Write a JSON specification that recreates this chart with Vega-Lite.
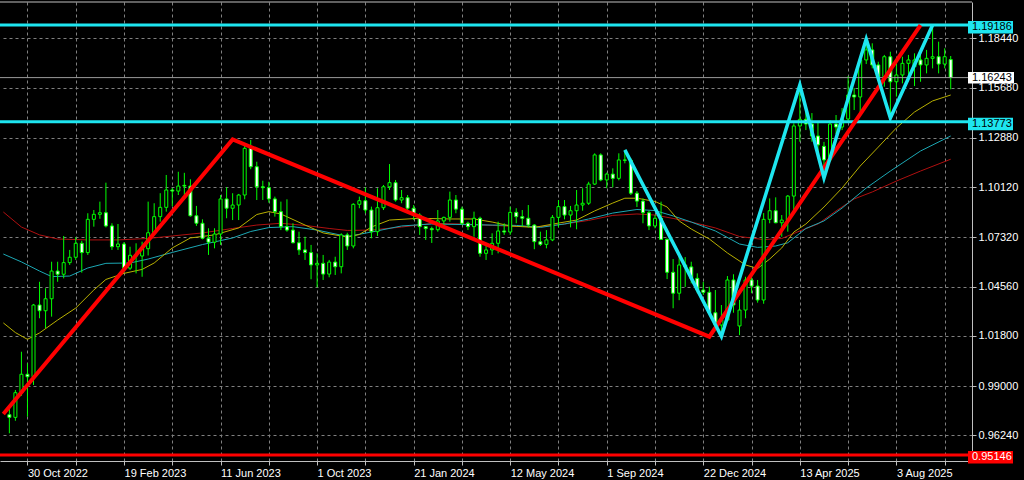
{
"$schema":"https://vega.github.io/schema/vega-lite/v6.json",
"width":972,"height":459,
"autosize":{"type":"none"},
"padding":{"left":0,"top":2,"right":52,"bottom":19},
"background":"#000000",
"config":{"view":{"stroke":null},"font":"Liberation Sans",
"axis":{"labelColor":"#ffffff","labelFont":"Liberation Sans","labelFontSize":11,"domainColor":"#c0c0c0","tickColor":"#c0c0c0","gridColor":"#808080","gridDash":[3,3],"gridOpacity":1,"grid":true,"title":null}},
"datasets":{
"cd":[
{"d":"2022-10-09","o":0.974,"h":0.9785,"l":0.9636,"c":0.9725},
{"d":"2022-10-16","o":0.9725,"h":0.9878,"l":0.9706,"c":0.9863},
{"d":"2022-10-23","o":0.9863,"h":1.0092,"l":0.9845,"c":0.9966},
{"d":"2022-10-30","o":0.9966,"h":1.0027,"l":0.9729,"c":0.9952},
{"d":"2022-11-06","o":0.9952,"h":1.0359,"l":0.9906,"c":1.0353},
{"d":"2022-11-13","o":1.0353,"h":1.0483,"l":1.0279,"c":1.0321},
{"d":"2022-11-20","o":1.0321,"h":1.0447,"l":1.0223,"c":1.0388},
{"d":"2022-11-27","o":1.0388,"h":1.0595,"l":1.0288,"c":1.0543},
{"d":"2022-12-04","o":1.0543,"h":1.0595,"l":1.0483,"c":1.0525},
{"d":"2022-12-11","o":1.0525,"h":1.0739,"l":1.0502,"c":1.059},
{"d":"2022-12-18","o":1.059,"h":1.0661,"l":1.0577,"c":1.062},
{"d":"2022-12-25","o":1.062,"h":1.0732,"l":1.0605,"c":1.0698},
{"d":"2023-01-01","o":1.0698,"h":1.0712,"l":1.0534,"c":1.0646},
{"d":"2023-01-08","o":1.0646,"h":1.0866,"l":1.0633,"c":1.0832},
{"d":"2023-01-15","o":1.0832,"h":1.0884,"l":1.0791,"c":1.086},
{"d":"2023-01-22","o":1.086,"h":1.0931,"l":1.0835,"c":1.0869},
{"d":"2023-01-29","o":1.0869,"h":1.1037,"l":1.0787,"c":1.0795},
{"d":"2023-02-05","o":1.0795,"h":1.081,"l":1.0661,"c":1.0679},
{"d":"2023-02-12","o":1.0679,"h":1.0806,"l":1.0661,"c":1.0694},
{"d":"2023-02-19","o":1.0694,"h":1.0705,"l":1.0535,"c":1.0559},
{"d":"2023-02-26","o":1.0559,"h":1.0679,"l":1.0549,"c":1.0631},
{"d":"2023-03-05","o":1.0631,"h":1.0698,"l":1.053,"c":1.0627},
{"d":"2023-03-12","o":1.0627,"h":1.0707,"l":1.0511,"c":1.0668},
{"d":"2023-03-19","o":1.0668,"h":1.0931,"l":1.063,"c":1.0757},
{"d":"2023-03-26","o":1.0757,"h":1.0922,"l":1.0745,"c":1.0847},
{"d":"2023-04-02","o":1.0847,"h":1.0978,"l":1.0819,"c":1.0899},
{"d":"2023-04-09","o":1.0899,"h":1.108,"l":1.0875,"c":1.0996},
{"d":"2023-04-16","o":1.0996,"h":1.1007,"l":1.0905,"c":1.099},
{"d":"2023-04-23","o":1.099,"h":1.1098,"l":1.0968,"c":1.1018},
{"d":"2023-04-30","o":1.1022,"h":1.1092,"l":1.0968,"c":1.1018},
{"d":"2023-05-07","o":1.1018,"h":1.1056,"l":1.0847,"c":1.0852},
{"d":"2023-05-14","o":1.0852,"h":1.0907,"l":1.0795,"c":1.081},
{"d":"2023-05-21","o":1.081,"h":1.0832,"l":1.072,"c":1.0726},
{"d":"2023-05-28","o":1.0726,"h":1.0782,"l":1.0633,"c":1.0704},
{"d":"2023-06-04","o":1.0704,"h":1.0782,"l":1.067,"c":1.075},
{"d":"2023-06-11","o":1.075,"h":1.0968,"l":1.0689,"c":1.0946},
{"d":"2023-06-18","o":1.0946,"h":1.1011,"l":1.0838,"c":1.0894},
{"d":"2023-06-25","o":1.0894,"h":1.0978,"l":1.0828,"c":1.0912},
{"d":"2023-07-02","o":1.0912,"h":1.0974,"l":1.0828,"c":1.0968},
{"d":"2023-07-09","o":1.0968,"h":1.1242,"l":1.0944,"c":1.1229},
{"d":"2023-07-16","o":1.1229,"h":1.1276,"l":1.1112,"c":1.1126},
{"d":"2023-07-23","o":1.1126,"h":1.1154,"l":1.094,"c":1.1014},
{"d":"2023-07-30","o":1.1014,"h":1.1048,"l":1.094,"c":1.1009},
{"d":"2023-08-06","o":1.1009,"h":1.1042,"l":1.0925,"c":1.0946},
{"d":"2023-08-13","o":1.0946,"h":1.0959,"l":1.0847,"c":1.0875},
{"d":"2023-08-20","o":1.0875,"h":1.0931,"l":1.0772,"c":1.0791},
{"d":"2023-08-27","o":1.0791,"h":1.0944,"l":1.0763,"c":1.0772},
{"d":"2023-09-03","o":1.0772,"h":1.081,"l":1.0698,"c":1.0701},
{"d":"2023-09-10","o":1.0701,"h":1.0763,"l":1.0633,"c":1.0661},
{"d":"2023-09-17","o":1.0661,"h":1.0735,"l":1.0605,"c":1.0646},
{"d":"2023-09-24","o":1.0646,"h":1.0689,"l":1.0497,"c":1.0577},
{"d":"2023-10-01","o":1.0577,"h":1.0642,"l":1.0452,"c":1.0586},
{"d":"2023-10-08","o":1.0586,"h":1.0633,"l":1.0493,"c":1.0526},
{"d":"2023-10-15","o":1.0526,"h":1.0605,"l":1.0508,"c":1.0593},
{"d":"2023-10-22","o":1.0593,"h":1.0623,"l":1.0521,"c":1.0567},
{"d":"2023-10-29","o":1.0567,"h":1.0754,"l":1.053,"c":1.0745},
{"d":"2023-11-05","o":1.0745,"h":1.0757,"l":1.0661,"c":1.0683},
{"d":"2023-11-12","o":1.0683,"h":1.0922,"l":1.067,"c":1.0916},
{"d":"2023-11-19","o":1.0916,"h":1.0959,"l":1.0894,"c":1.0936},
{"d":"2023-11-26","o":1.0936,"h":1.1011,"l":1.0866,"c":1.0884},
{"d":"2023-12-03","o":1.0884,"h":1.0903,"l":1.0726,"c":1.0763},
{"d":"2023-12-10","o":1.0763,"h":1.1006,"l":1.0739,"c":1.0897},
{"d":"2023-12-17","o":1.0897,"h":1.1024,"l":1.0884,"c":1.1014},
{"d":"2023-12-24","o":1.1014,"h":1.1141,"l":1.0996,"c":1.1037},
{"d":"2023-12-31","o":1.1037,"h":1.1052,"l":1.0931,"c":1.094},
{"d":"2024-01-07","o":1.094,"h":1.0996,"l":1.0922,"c":1.0953},
{"d":"2024-01-14","o":1.0953,"h":1.0968,"l":1.0866,"c":1.0894},
{"d":"2024-01-21","o":1.0894,"h":1.0912,"l":1.0828,"c":1.0856},
{"d":"2024-01-28","o":1.0856,"h":1.0866,"l":1.0745,"c":1.0791},
{"d":"2024-02-04","o":1.0791,"h":1.0795,"l":1.0717,"c":1.078},
{"d":"2024-02-11","o":1.078,"h":1.0791,"l":1.07,"c":1.0774},
{"d":"2024-02-18","o":1.0774,"h":1.0884,"l":1.0763,"c":1.0823},
{"d":"2024-02-25","o":1.0823,"h":1.0847,"l":1.0791,"c":1.0843},
{"d":"2024-03-03","o":1.0843,"h":1.0987,"l":1.0819,"c":1.094},
{"d":"2024-03-10","o":1.094,"h":1.0968,"l":1.0866,"c":1.0889},
{"d":"2024-03-17","o":1.0889,"h":1.0903,"l":1.08,"c":1.081},
{"d":"2024-03-24","o":1.081,"h":1.0819,"l":1.0772,"c":1.0791},
{"d":"2024-03-31","o":1.0791,"h":1.0875,"l":1.0735,"c":1.0838},
{"d":"2024-04-07","o":1.0838,"h":1.0847,"l":1.0623,"c":1.0642},
{"d":"2024-04-14","o":1.0642,"h":1.0689,"l":1.0605,"c":1.0661},
{"d":"2024-04-21","o":1.0661,"h":1.0754,"l":1.0633,"c":1.0698},
{"d":"2024-04-28","o":1.0698,"h":1.0819,"l":1.0642,"c":1.0767},
{"d":"2024-05-05","o":1.0767,"h":1.081,"l":1.0745,"c":1.0761},
{"d":"2024-05-12","o":1.0761,"h":1.0903,"l":1.0745,"c":1.0871},
{"d":"2024-05-19","o":1.0871,"h":1.0894,"l":1.081,"c":1.0847},
{"d":"2024-05-26","o":1.0847,"h":1.0884,"l":1.0791,"c":1.0838},
{"d":"2024-06-02","o":1.0838,"h":1.0912,"l":1.0787,"c":1.08},
{"d":"2024-06-09","o":1.08,"h":1.0805,"l":1.0665,"c":1.0707},
{"d":"2024-06-16","o":1.0707,"h":1.0763,"l":1.0683,"c":1.0692},
{"d":"2024-06-23","o":1.0692,"h":1.0772,"l":1.067,"c":1.0717},
{"d":"2024-06-30","o":1.0717,"h":1.0856,"l":1.071,"c":1.0843},
{"d":"2024-07-07","o":1.0843,"h":1.094,"l":1.0787,"c":1.0903},
{"d":"2024-07-14","o":1.0903,"h":1.094,"l":1.0832,"c":1.0856},
{"d":"2024-07-21","o":1.0856,"h":1.0907,"l":1.0787,"c":1.088},
{"d":"2024-07-28","o":1.088,"h":1.0996,"l":1.0776,"c":1.0912},
{"d":"2024-08-04","o":1.0912,"h":1.1006,"l":1.088,"c":1.0922},
{"d":"2024-08-11","o":1.0922,"h":1.1042,"l":1.0912,"c":1.1029},
{"d":"2024-08-18","o":1.1029,"h":1.1201,"l":1.1024,"c":1.1192},
{"d":"2024-08-25","o":1.1192,"h":1.1201,"l":1.1045,"c":1.1052},
{"d":"2024-09-01","o":1.1052,"h":1.1093,"l":1.1006,"c":1.1085},
{"d":"2024-09-08","o":1.1085,"h":1.1117,"l":1.1011,"c":1.1061},
{"d":"2024-09-15","o":1.1061,"h":1.1201,"l":1.105,"c":1.1164},
{"d":"2024-09-22","o":1.1164,"h":1.122,"l":1.1145,"c":1.1162},
{"d":"2024-09-29","o":1.1162,"h":1.1173,"l":1.0968,"c":1.0978},
{"d":"2024-10-06","o":1.0978,"h":1.099,"l":1.0901,"c":1.0934},
{"d":"2024-10-13","o":1.0934,"h":1.0949,"l":1.081,"c":1.0869},
{"d":"2024-10-20","o":1.0869,"h":1.088,"l":1.0772,"c":1.0795},
{"d":"2024-10-27","o":1.0795,"h":1.0856,"l":1.0782,"c":1.0838},
{"d":"2024-11-03","o":1.0838,"h":1.0931,"l":1.0717,"c":1.072},
{"d":"2024-11-10","o":1.072,"h":1.0725,"l":1.0498,"c":1.0536},
{"d":"2024-11-17","o":1.0536,"h":1.061,"l":1.0335,"c":1.0419},
{"d":"2024-11-24","o":1.0419,"h":1.0623,"l":1.038,"c":1.0577},
{"d":"2024-12-01","o":1.0577,"h":1.0621,"l":1.0454,"c":1.0566},
{"d":"2024-12-08","o":1.0566,"h":1.0595,"l":1.0474,"c":1.0502},
{"d":"2024-12-15","o":1.0502,"h":1.053,"l":1.0419,"c":1.0437},
{"d":"2024-12-22","o":1.0437,"h":1.0482,"l":1.0409,"c":1.0424},
{"d":"2024-12-29","o":1.0424,"h":1.0455,"l":1.0307,"c":1.031},
{"d":"2025-01-05","o":1.031,"h":1.0437,"l":1.0236,"c":1.0241},
{"d":"2025-01-12","o":1.0241,"h":1.0353,"l":1.0178,"c":1.0269},
{"d":"2025-01-19","o":1.0269,"h":1.0515,"l":1.0265,"c":1.0493},
{"d":"2025-01-26","o":1.0493,"h":1.0525,"l":1.031,"c":1.0353},
{"d":"2025-02-02","o":1.0236,"h":1.0381,"l":1.0185,"c":1.0325},
{"d":"2025-02-09","o":1.0325,"h":1.0511,"l":1.0279,"c":1.0493},
{"d":"2025-02-16","o":1.0493,"h":1.053,"l":1.0419,"c":1.0459},
{"d":"2025-02-23","o":1.0459,"h":1.0493,"l":1.0366,"c":1.0381},
{"d":"2025-03-02","o":1.0381,"h":1.0867,"l":1.036,"c":1.0832},
{"d":"2025-03-09","o":1.0832,"h":1.0949,"l":1.081,"c":1.088},
{"d":"2025-03-16","o":1.088,"h":1.0955,"l":1.081,"c":1.0813},
{"d":"2025-03-23","o":1.0813,"h":1.0856,"l":1.0735,"c":1.0828},
{"d":"2025-03-30","o":1.0828,"h":1.0968,"l":1.0763,"c":1.0962},
{"d":"2025-04-06","o":1.0962,"h":1.1369,"l":1.0884,"c":1.1354},
{"d":"2025-04-13","o":1.1354,"h":1.1583,"l":1.1266,"c":1.1391},
{"d":"2025-04-20","o":1.1391,"h":1.1434,"l":1.1331,"c":1.1365},
{"d":"2025-04-27","o":1.1365,"h":1.1426,"l":1.1266,"c":1.1298},
{"d":"2025-05-04","o":1.1298,"h":1.1371,"l":1.1203,"c":1.1248},
{"d":"2025-05-11","o":1.124,"h":1.1265,"l":1.1074,"c":1.1164},
{"d":"2025-05-18","o":1.1164,"h":1.1387,"l":1.1153,"c":1.1365},
{"d":"2025-05-25","o":1.1365,"h":1.1415,"l":1.1309,"c":1.1348},
{"d":"2025-06-01","o":1.1348,"h":1.1454,"l":1.1331,"c":1.1393},
{"d":"2025-06-08","o":1.1393,"h":1.1633,"l":1.1382,"c":1.1527},
{"d":"2025-06-15","o":1.1527,"h":1.1566,"l":1.1443,"c":1.1516},
{"d":"2025-06-22","o":1.1516,"h":1.1739,"l":1.1432,"c":1.1723},
{"d":"2025-06-29","o":1.1723,"h":1.184,"l":1.17,"c":1.1779},
{"d":"2025-07-06","o":1.1779,"h":1.1816,"l":1.1676,"c":1.1695},
{"d":"2025-07-13","o":1.1695,"h":1.1713,"l":1.1611,"c":1.1629},
{"d":"2025-07-20","o":1.1629,"h":1.1751,"l":1.1573,"c":1.1741},
{"d":"2025-07-27","o":1.1741,"h":1.1769,"l":1.1398,"c":1.1601},
{"d":"2025-08-03","o":1.1601,"h":1.1723,"l":1.1518,"c":1.1639},
{"d":"2025-08-10","o":1.1639,"h":1.1741,"l":1.1592,"c":1.1704},
{"d":"2025-08-17","o":1.1704,"h":1.1751,"l":1.1601,"c":1.1723},
{"d":"2025-08-24","o":1.1685,"h":1.176,"l":1.1577,"c":1.1723},
{"d":"2025-08-31","o":1.1723,"h":1.1779,"l":1.1601,"c":1.1695},
{"d":"2025-09-07","o":1.1695,"h":1.1779,"l":1.1648,"c":1.1732},
{"d":"2025-09-14","o":1.1732,"h":1.1918,"l":1.1676,"c":1.1741},
{"d":"2025-09-21","o":1.1741,"h":1.1825,"l":1.1648,"c":1.17},
{"d":"2025-09-28","o":1.17,"h":1.1788,"l":1.1676,"c":1.1741},
{"d":"2025-10-05","o":1.1725,"h":1.1745,"l":1.1559,"c":1.1624}
],
"ma":[
{"d":"2022-10-02","s":"r","v":1.0873},{"d":"2022-10-23","s":"r","v":1.0789},{"d":"2022-11-13","s":"r","v":1.0745},{"d":"2022-12-04","s":"r","v":1.0722},{"d":"2023-01-08","s":"r","v":1.0717},{"d":"2023-02-12","s":"r","v":1.0717},{"d":"2023-03-19","s":"r","v":1.0725},{"d":"2023-04-16","s":"r","v":1.0739},{"d":"2023-05-21","s":"r","v":1.0756},{"d":"2023-06-25","s":"r","v":1.0781},{"d":"2023-07-23","s":"r","v":1.08},{"d":"2023-08-20","s":"r","v":1.081},{"d":"2023-09-17","s":"r","v":1.0798},{"d":"2023-10-15","s":"r","v":1.0781},{"d":"2023-11-05","s":"r","v":1.077},{"d":"2023-12-03","s":"r","v":1.0772},{"d":"2024-01-07","s":"r","v":1.0789},{"d":"2024-02-11","s":"r","v":1.0809},{"d":"2024-03-17","s":"r","v":1.0806},{"d":"2024-04-21","s":"r","v":1.0798},{"d":"2024-05-19","s":"r","v":1.0792},{"d":"2024-06-16","s":"r","v":1.0791},{"d":"2024-07-14","s":"r","v":1.0806},{"d":"2024-08-11","s":"r","v":1.0826},{"d":"2024-09-08","s":"r","v":1.0854},{"d":"2024-10-06","s":"r","v":1.0862},{"d":"2024-10-27","s":"r","v":1.0856},{"d":"2024-11-17","s":"r","v":1.0837},{"d":"2024-12-08","s":"r","v":1.0817},{"d":"2025-01-05","s":"r","v":1.0784},{"d":"2025-02-02","s":"r","v":1.0736},{"d":"2025-03-02","s":"r","v":1.0719},{"d":"2025-03-23","s":"r","v":1.0725},{"d":"2025-04-13","s":"r","v":1.0767},{"d":"2025-05-04","s":"r","v":1.0806},{"d":"2025-05-25","s":"r","v":1.0879},{"d":"2025-06-15","s":"r","v":1.0946},{"d":"2025-07-06","s":"r","v":1.0985},{"d":"2025-08-03","s":"r","v":1.1046},{"d":"2025-08-31","s":"r","v":1.1102},{"d":"2025-10-05","s":"r","v":1.1168},
{"d":"2022-10-02","s":"t","v":1.0638},{"d":"2022-10-23","s":"t","v":1.0594},{"d":"2022-11-13","s":"t","v":1.0543},{"d":"2022-11-27","s":"t","v":1.0512},{"d":"2022-12-18","s":"t","v":1.0515},{"d":"2023-01-08","s":"t","v":1.056},{"d":"2023-01-29","s":"t","v":1.0586},{"d":"2023-02-26","s":"t","v":1.0588},{"d":"2023-03-19","s":"t","v":1.061},{"d":"2023-04-16","s":"t","v":1.0647},{"d":"2023-05-21","s":"t","v":1.0691},{"d":"2023-06-25","s":"t","v":1.0728},{"d":"2023-07-16","s":"t","v":1.0764},{"d":"2023-08-06","s":"t","v":1.0786},{"d":"2023-09-03","s":"t","v":1.0791},{"d":"2023-10-01","s":"t","v":1.0772},{"d":"2023-11-05","s":"t","v":1.0736},{"d":"2023-12-03","s":"t","v":1.0761},{"d":"2024-01-07","s":"t","v":1.0795},{"d":"2024-02-11","s":"t","v":1.0806},{"d":"2024-03-17","s":"t","v":1.0803},{"d":"2024-04-21","s":"t","v":1.08},{"d":"2024-05-19","s":"t","v":1.0798},{"d":"2024-06-16","s":"t","v":1.0787},{"d":"2024-07-14","s":"t","v":1.0806},{"d":"2024-08-11","s":"t","v":1.0834},{"d":"2024-09-08","s":"t","v":1.0867},{"d":"2024-10-06","s":"t","v":1.0887},{"d":"2024-10-27","s":"t","v":1.0881},{"d":"2024-11-17","s":"t","v":1.0851},{"d":"2024-12-08","s":"t","v":1.0817},{"d":"2025-01-05","s":"t","v":1.0767},{"d":"2025-02-02","s":"t","v":1.0694},{"d":"2025-02-23","s":"t","v":1.0675},{"d":"2025-03-16","s":"t","v":1.0683},{"d":"2025-03-30","s":"t","v":1.0701},{"d":"2025-04-20","s":"t","v":1.0781},{"d":"2025-05-11","s":"t","v":1.0823},{"d":"2025-06-01","s":"t","v":1.0895},{"d":"2025-06-29","s":"t","v":1.1007},{"d":"2025-07-27","s":"t","v":1.1102},{"d":"2025-08-31","s":"t","v":1.1214},{"d":"2025-10-05","s":"t","v":1.1298},
{"d":"2022-10-02","s":"y","v":1.0253},{"d":"2022-10-16","s":"y","v":1.0199},{"d":"2022-10-30","s":"y","v":1.0161},{"d":"2022-11-13","s":"y","v":1.0197},{"d":"2022-12-04","s":"y","v":1.0269},{"d":"2022-12-25","s":"y","v":1.0336},{"d":"2023-01-15","s":"y","v":1.0437},{"d":"2023-01-29","s":"y","v":1.0496},{"d":"2023-02-19","s":"y","v":1.053},{"d":"2023-03-12","s":"y","v":1.0552},{"d":"2023-03-26","s":"y","v":1.0588},{"d":"2023-04-16","s":"y","v":1.0672},{"d":"2023-05-07","s":"y","v":1.0728},{"d":"2023-06-04","s":"y","v":1.0745},{"d":"2023-07-02","s":"y","v":1.0784},{"d":"2023-07-23","s":"y","v":1.0859},{"d":"2023-08-06","s":"y","v":1.0875},{"d":"2023-08-20","s":"y","v":1.0862},{"d":"2023-09-17","s":"y","v":1.08},{"d":"2023-10-08","s":"y","v":1.0756},{"d":"2023-11-05","s":"y","v":1.0733},{"d":"2023-11-19","s":"y","v":1.0747},{"d":"2023-12-03","s":"y","v":1.0789},{"d":"2023-12-24","s":"y","v":1.0828},{"d":"2024-01-28","s":"y","v":1.0838},{"d":"2024-03-03","s":"y","v":1.0834},{"d":"2024-03-31","s":"y","v":1.0834},{"d":"2024-04-21","s":"y","v":1.0817},{"d":"2024-05-12","s":"y","v":1.0795},{"d":"2024-06-09","s":"y","v":1.0787},{"d":"2024-07-07","s":"y","v":1.0811},{"d":"2024-07-28","s":"y","v":1.0828},{"d":"2024-08-18","s":"y","v":1.0879},{"d":"2024-09-08","s":"y","v":1.0923},{"d":"2024-09-22","s":"y","v":1.095},{"d":"2024-10-06","s":"y","v":1.095},{"d":"2024-10-27","s":"y","v":1.0932},{"d":"2024-11-10","s":"y","v":1.0901},{"d":"2024-11-24","s":"y","v":1.0823},{"d":"2024-12-08","s":"y","v":1.0778},{"d":"2024-12-29","s":"y","v":1.0722},{"d":"2025-01-19","s":"y","v":1.0644},{"d":"2025-02-09","s":"y","v":1.0577},{"d":"2025-02-23","s":"y","v":1.0557},{"d":"2025-03-09","s":"y","v":1.061},{"d":"2025-03-23","s":"y","v":1.0672},{"d":"2025-04-06","s":"y","v":1.0761},{"d":"2025-04-20","s":"y","v":1.0806},{"d":"2025-05-11","s":"y","v":1.0901},{"d":"2025-06-01","s":"y","v":1.1007},{"d":"2025-06-22","s":"y","v":1.113},{"d":"2025-07-13","s":"y","v":1.1236},{"d":"2025-08-03","s":"y","v":1.1343},{"d":"2025-08-24","s":"y","v":1.1432},{"d":"2025-09-14","s":"y","v":1.1494},{"d":"2025-10-05","s":"y","v":1.1527}
],
"zr":[{"d":"2022-10-02","v":0.9744},{"d":"2023-06-25","v":1.1279},{"d":"2024-12-29","v":1.0176},{"d":"2025-08-31","v":1.1918}],
"zc":[{"d":"2024-09-22","v":1.122},{"d":"2025-01-12","v":1.0178},{"d":"2025-04-13","v":1.1583},{"d":"2025-05-11","v":1.1063},{"d":"2025-06-29","v":1.184},{"d":"2025-07-27","v":1.1398},{"d":"2025-09-14","v":1.1918}],
"lv":[{"v":1.19186,"k":"r"},{"v":1.16243,"k":"p"},{"v":1.13773,"k":"r"},{"v":0.95146,"k":"s"}]
},
"layer":[
{"data":{"name":"ma"},"mark":{"type":"line","strokeWidth":1,"clip":true},
"encoding":{
"x":{"field":"d","type":"temporal","scale":{"type":"utc","domain":[1664836243000,1761255360000]},
"axis":{"orient":"bottom","values":[1667088000000,1671926400000,1676764800000,1681603200000,1686441600000,1691280000000,1696118400000,1700956800000,1705795200000,1710633600000,1715472000000,1720310400000,1725148800000,1729987200000,1734825600000,1739664000000,1744502400000,1749340800000,1754179200000,1759017600000],
"format":"%-d %b %Y","labelAlign":"left","labelBaseline":"top","labelPadding":2,"tickSize":4,"labelOverlap":false,"labelFlush":false,"title":null,
"labelExpr":"round((toNumber(datum.value) - 1667088000000) / 4838400000) % 2 == 0 ? datum.label : ''"}},
"y":{"field":"v","type":"quantitative","scale":{"domain":[0.94811,1.20469],"zero":false,"nice":false},
"axis":{"orient":"right","values":[0.9624,0.99,1.018,1.0456,1.0732,1.1012,1.1288,1.1568,1.1844],"format":".5f","tickSize":4,"labelPadding":2,"title":null,"labelBaseline":"middle"}},
"color":{"field":"s","type":"nominal","scale":{"domain":["y","t","r"],"range":["#b8b000","#1ca8b4","#b01010"]},"legend":null},
"detail":{"field":"s"}}},
{"data":{"values":[{}]},"mark":{"type":"rule","color":"#c0c0c0","strokeWidth":1},
"encoding":{"y":{"datum":1.20469,"type":"quantitative","scale":{"domain":[0.94811,1.20469],"zero":false,"nice":false},"title":null}}},
{"data":{"name":"cd"},"mark":{"type":"rule","color":"#00ff00","strokeWidth":1,"clip":true},
"encoding":{
"x":{"field":"d","type":"temporal","scale":{"type":"utc","domain":[1664836243000,1761255360000]},"title":null},
"y":{"field":"l","type":"quantitative","scale":{"domain":[0.94811,1.20469],"zero":false,"nice":false},"title":null},
"y2":{"field":"h"}}},
{"data":{"name":"cd"},"mark":{"type":"bar","width":3,"stroke":"#00ff00","strokeWidth":1,"clip":true},
"encoding":{
"x":{"field":"d","type":"temporal","scale":{"type":"utc","domain":[1664836243000,1761255360000]},"title":null},
"y":{"field":"o","type":"quantitative","scale":{"domain":[0.94811,1.20469],"zero":false,"nice":false},"title":null},
"y2":{"field":"c"},
"fill":{"condition":{"test":"datum.c < datum.o","value":"#ffffff"},"value":"#000000"}}},
{"data":{"name":"lv"},"mark":{"type":"rule"},
"encoding":{
"y":{"field":"v","type":"quantitative","scale":{"domain":[0.94811,1.20469],"zero":false,"nice":false},"title":null},
"color":{"condition":[{"test":"datum.k === 'p'","value":"#9a9a9a"},{"test":"datum.k === 's'","value":"#ff0000"}],"value":"#1ee6f0"},
"strokeWidth":{"condition":{"test":"datum.k === 'p'","value":1},"value":3}}},
{"data":{"name":"zr"},"mark":{"type":"line","color":"#ff0000","strokeWidth":4,"clip":true},
"encoding":{
"x":{"field":"d","type":"temporal","scale":{"type":"utc","domain":[1664836243000,1761255360000]},"title":null},
"y":{"field":"v","type":"quantitative","scale":{"domain":[0.94811,1.20469],"zero":false,"nice":false},"title":null}}},
{"data":{"name":"zc"},"mark":{"type":"line","color":"#1ee6f0","strokeWidth":3.5,"clip":true},
"encoding":{
"x":{"field":"d","type":"temporal","scale":{"type":"utc","domain":[1664836243000,1761255360000]},"title":null},
"y":{"field":"v","type":"quantitative","scale":{"domain":[0.94811,1.20469],"zero":false,"nice":false},"title":null}}},
{"data":{"name":"lv"},"transform":[{"filter":"datum.k !== 'p'"}],
"mark":{"type":"rect","xOffset":1,"x2Offset":46,"yOffset":-4,"y2Offset":8.5},
"encoding":{
"x":{"datum":1761255360000,"type":"temporal","scale":{"type":"utc","domain":[1664836243000,1761255360000]},"title":null},
"x2":{"datum":1761255360000},
"y":{"field":"v","type":"quantitative","scale":{"domain":[0.94811,1.20469],"zero":false,"nice":false},"title":null},
"y2":{"field":"v"},
"color":{"condition":{"test":"datum.k === 's'","value":"#ff0000"},"value":"#1ee6f0"}}},
{"data":{"name":"lv"},"transform":[{"filter":"datum.k === 'p'"}],
"mark":{"type":"rect","xOffset":1,"x2Offset":47,"yOffset":-5.5,"y2Offset":6,"color":"#ffffff"},
"encoding":{
"x":{"datum":1761255360000,"type":"temporal","scale":{"type":"utc","domain":[1664836243000,1761255360000]},"title":null},
"x2":{"datum":1761255360000},
"y":{"field":"v","type":"quantitative","scale":{"domain":[0.94811,1.20469],"zero":false,"nice":false},"title":null},
"y2":{"field":"v"}}},
{"data":{"name":"lv"},"transform":[{"filter":"datum.k !== 'p'"}],
"mark":{"type":"text","align":"left","baseline":"middle","dx":5,"dy":2.3,"fontSize":11,"font":"Liberation Sans"},
"encoding":{
"x":{"datum":1761255360000,"type":"temporal","scale":{"type":"utc","domain":[1664836243000,1761255360000]},"title":null},
"y":{"field":"v","type":"quantitative","scale":{"domain":[0.94811,1.20469],"zero":false,"nice":false},"title":null},
"text":{"field":"v","type":"quantitative","format":".5f"},
"color":{"condition":{"test":"datum.k === 's'","value":"#ffffff"},"value":"#000000"}}},
{"data":{"name":"lv"},"transform":[{"filter":"datum.k === 'p'"}],
"mark":{"type":"text","align":"left","baseline":"middle","dx":5,"dy":0.3,"fontSize":11,"font":"Liberation Sans","color":"#000000"},
"encoding":{
"x":{"datum":1761255360000,"type":"temporal","scale":{"type":"utc","domain":[1664836243000,1761255360000]},"title":null},
"y":{"field":"v","type":"quantitative","scale":{"domain":[0.94811,1.20469],"zero":false,"nice":false},"title":null},
"text":{"field":"v","type":"quantitative","format":".5f"}}}
]
}
